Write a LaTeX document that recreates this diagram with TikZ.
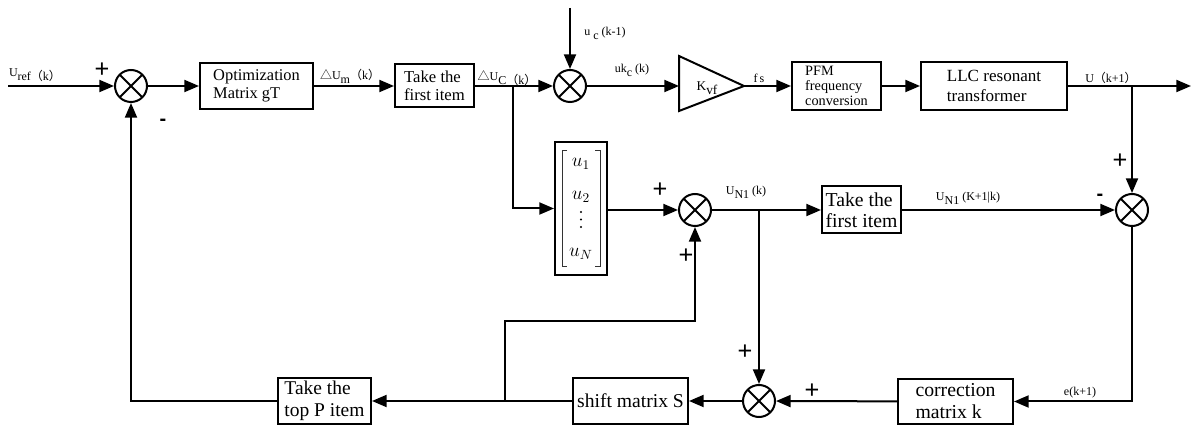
\documentclass[tikz,border=0pt]{standalone}
\usepackage{fontspec}
\usepackage{amsmath}
\setmainfont{Liberation Serif}
\newfontfamily\cjk{Noto Sans CJK SC}
\newfontfamily\sansf{Liberation Sans}
\usetikzlibrary{arrows.meta}
\newcommand\cjkp[1]{{\cjk #1}}
\newcommand\dn[1]{\raisebox{-3pt}{#1}}
\begin{document}
\begin{tikzpicture}[x=0.75pt,y=-0.75pt,
  line width=1.5pt,
  arr/.style={-{Triangle[length=11pt,width=9pt]}},
  blk/.style 2 args={draw, rectangle, inner sep=0pt, minimum width=#1*0.75pt, minimum height=#2*0.75pt},
  sumnode/.style={draw, circle, minimum size=24pt, inner sep=0pt,
    path picture={\draw[line width=1.5pt] (path picture bounding box.north west) -- (path picture bounding box.south east)
      (path picture bounding box.north east) -- (path picture bounding box.south west);}},
  lab/.style={font=\fontsize{9}{10}\selectfont, inner sep=0pt},
  sgn/.style={font=\sansf\fontsize{19}{19}\selectfont, inner sep=0pt},
  msgn/.style={font=\sansf\bfseries\fontsize{15}{15}\selectfont, inner sep=0pt},
  entry/.style={font=\fontsize{14}{16}\selectfont, inner sep=0pt},
  brk/.style={line width=0.6pt, draw=black!80},
]
\useasboundingbox (0,0) rectangle (1192,427);

% blocks
\node[blk={113}{46}, align=left, font=\fontsize{12.3}{13.5}\selectfont] (opt) at (256.5,86) {Optimization\\Matrix gT};
\node[blk={79}{43}, align=left, font=\fontsize{12.5}{13.5}\selectfont] (take1) at (434.5,86) {Take the\\first item};
\node[blk={89}{48}, align=left, font=\fontsize{10.7}{11.2}\selectfont] (pfm) at (836.5,86) {PFM\\frequency\\conversion};
\node[blk={146}{48}, align=left, font=\fontsize{12.8}{14.5}\selectfont] (llc) at (994,86) {LLC resonant\\transformer};
\node[blk={79}{47}, align=left, font=\fontsize{14.8}{16}\selectfont] (take2) at (861.5,210) {Take the\\first item};
\node[blk={52}{133}] (matrix) at (581,208.5) {};
\node[blk={115}{46}, font=\fontsize{14.7}{16}\selectfont] (shift) at (630.5,401) {shift matrix S};
\node[blk={93}{46}, align=left, font=\fontsize{14.6}{16.5}\selectfont] (topP) at (324.5,401) {Take the\\top P item};
\node[blk={115}{45}, align=left, font=\fontsize{14.8}{16.5}\selectfont] (corr) at (955.5,401.5) {correction\\matrix k};

% matrix contents
\draw[brk] (567,150) -- (562,150) -- (562,266) -- (567,266);
\draw[brk] (595,150) -- (600,150) -- (600,266) -- (595,266);
\node[entry] (e1) at (581,164) {$u_1$};
\node[entry] (e2) at (581,197) {$u_2$};
\fill (581,212) circle (0.8pt) (581,219.5) circle (0.8pt) (581,227) circle (0.8pt);
\node[entry] (e4) at (581,254) {$u_N$};

% summing junctions
\node[sumnode] (s1) at (131,86) {};
\node[sumnode] (s2) at (570,86) {};
\node[sumnode] (s3) at (1132,210) {};
\node[sumnode] (s4) at (695,210) {};
\node[sumnode] (s5) at (759,401) {};

% gain triangle
\coordinate (kin) at (679,86);
\coordinate (ktop) at (679,56);
\coordinate (kbot) at (679,111);
\coordinate (ktip) at (744,86);
\draw (ktop) -- (ktip) -- (kbot) -- cycle;
\node[lab, font=\fontsize{10}{11}\selectfont] (klab) at (707,88) {K\dn{vf}};

% free ends and branch points
\coordinate (uin) at (8,86);
\coordinate (ucin) at (570,8);
\coordinate (uout) at (1191,86);
\coordinate (b1) at (513,86);
\coordinate (b2) at (1132,86);
\coordinate (b3) at (759,210);
\coordinate (b4) at (505,401);
\coordinate (c4) at (505,321);

% connectors
\draw[arr] (uin) -- (s1);
\draw[arr] (s1) -- (opt);
\draw[arr] (opt) -- (take1);
\draw[arr] (take1) -- (s2);
\draw[arr] (b1) |- (matrix);
\draw[arr] (ucin) -- (s2);
\draw[arr] (s2) -- (kin);
\draw[arr] (ktip) -- (pfm);
\draw[arr] (pfm) -- (llc);
\draw[arr] (llc) -- (uout);
\draw[arr] (b2) -- (s3);
\draw[arr] (matrix.east |- s4) -- (s4);
\draw[arr] (s4) -- (take2);
\draw[arr] (take2) -- (s3);
\draw[arr] (b3) -- (s5);
\draw[arr] (s3) |- (corr);
\draw[arr] (corr) -- (s5);
\draw[arr] (s5) -- (shift);
\draw[arr] (shift) -- (topP);
\draw[arr] (b4) -- (c4) -| (s4);
\draw[arr] (topP) -| (s1);

% labels
\node[lab] (l1) at (35,75) {U\dn{ref\cjkp{（}k\cjkp{）}}};
\node[lab] (l2) at (350,76) {\cjkp{△}U\dn{m}\cjkp{（}k\cjkp{）}};
\node[lab] (l3) at (507,78) {\cjkp{△}U\dn{C\cjkp{（}k\cjkp{）}}};
\node[lab] (l4) at (605,33) {u\dn{ c} (k-1)};
\node[lab] (l5) at (632,70) {uk\dn{c} (k)};
\node[lab] (l6) at (759,78) {f\,s};
\node[lab] (l7) at (1111,78) {U\cjkp{（}k+1\cjkp{）}};
\node[lab] (l8) at (746,192) {U\dn{N1} (k)};
\node[lab] (l9) at (968,198) {U\dn{N1} (K+1|k)};
\node[lab] (l10) at (1080,393) {e(k+1)};

% signs
\node[sgn] (p1) at (102,70) {+};
\node[msgn] (m1) at (163,122) {-};
\node[sgn] (p2) at (660,190) {+};
\node[sgn] (p3) at (686,256) {+};
\node[sgn] (p4) at (1120,161) {+};
\node[msgn] (m2) at (1100,197) {-};
\node[sgn] (p5) at (745,352) {+};
\node[sgn] (p6) at (812,391) {+};
\end{tikzpicture}
\end{document}
